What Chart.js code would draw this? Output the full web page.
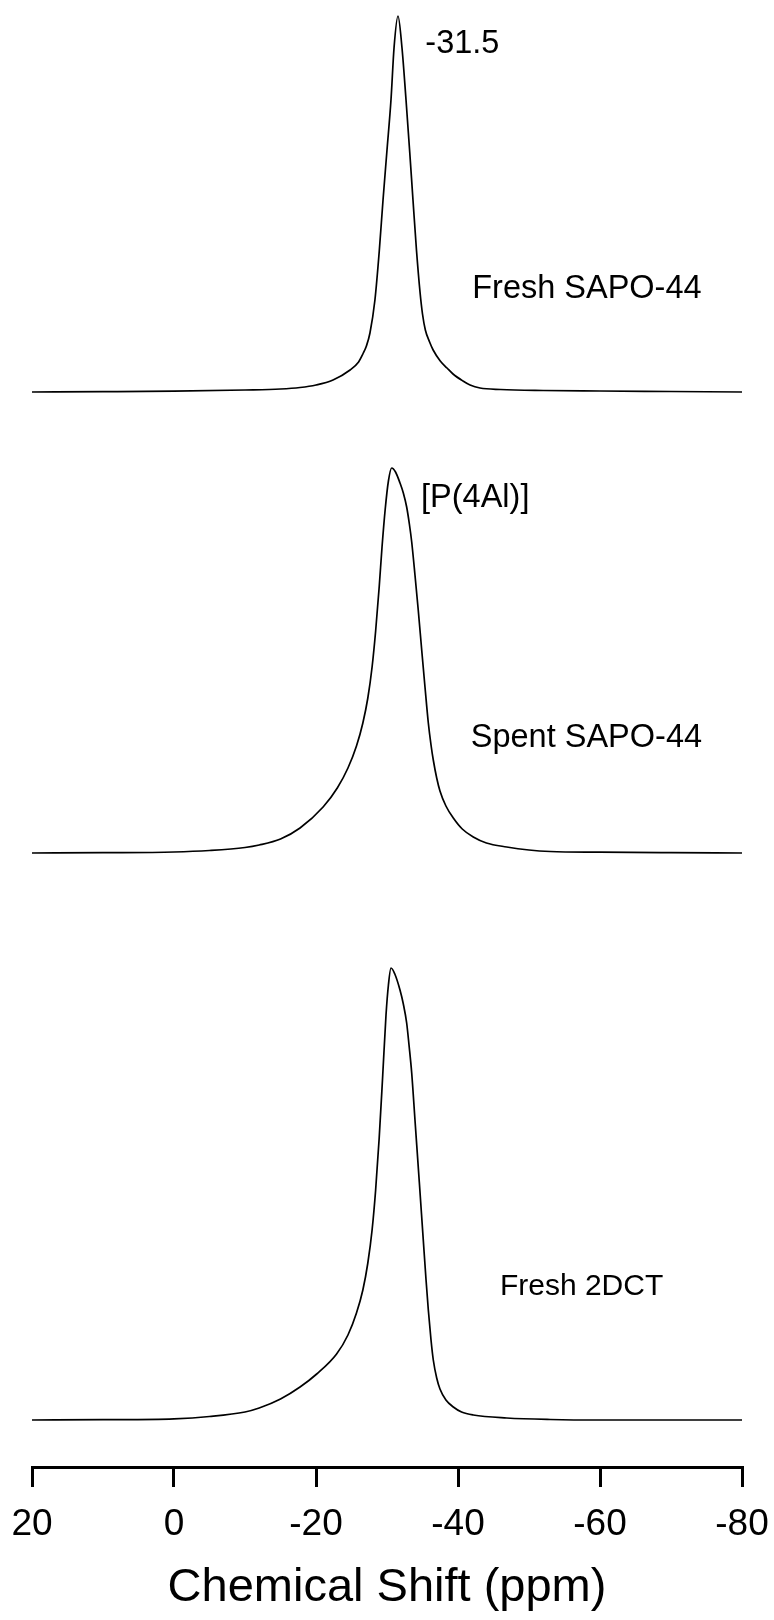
<!DOCTYPE html>
<html>
<head>
<meta charset="utf-8">
<script src="https://cdn.jsdelivr.net/npm/chart.js@4.4.1/dist/chart.umd.min.js"></script>
<style>
html,body{margin:0;padding:0;background:#fff;}
#wrap{width:774px;height:1620px;position:relative;}
canvas{display:block;}
</style>
</head>
<body>
<div id="wrap"><canvas id="c" width="774" height="1620"></canvas></div>
<script>
// ---- Data (31P MAS NMR spectra; chemical shift in ppm, intensity in a.u.) ----
const ppmFresh = [20, 10, 0, -10, -15, -17.75, -20, -22.4, -24.8, -26.0, -26.6, -27.1, -27.6, -28.3, -28.9, -29.44, -30.0, -30.56, -31.0, -31.55, -32.1, -32.68, -33.2, -33.66, -34.15, -34.65, -35.0, -35.4, -36.0, -36.5, -37.5, -38.45, -39.3, -40.7, -41.7, -43.1, -46, -52, -60, -70, -80];
const intFresh = [0, 0.3, 0.8, 2, 3, 4.5, 7, 12, 22, 30, 38, 46, 59, 92, 140, 192, 242, 292, 345, 376, 345, 292, 240, 192, 142, 100, 78, 62, 50, 42, 31, 24, 18, 11, 7, 4, 2.5, 1.5, 1, 0.5, 0];

const ppmSpent = [20, 10, 0, -5, -10, -12, -15, -17.75, -21.0, -23.0, -24.5, -25.7, -26.6, -27.3, -27.9, -28.4, -28.9, -29.3, -29.75, -30.2, -30.66, -31.2, -31.83, -32.3, -32.77, -33.15, -33.48, -33.94, -34.4, -34.9, -35.35, -35.82, -36.2, -36.52, -37.0, -37.46, -38.3, -39.34, -40.6, -42.15, -44.0, -46.86, -50, -53, -60, -70, -80];
const intSpent = [0, 0.3, 1, 2.5, 5.5, 8, 14, 25, 46, 65, 85, 107, 130, 155, 186, 222, 266, 306, 344, 372, 385, 381, 370, 360, 346, 329, 311, 278, 243, 202, 166, 130, 108, 93, 75, 62, 47, 35, 24, 16, 10, 6, 3, 1.5, 0.8, 0.3, 0];

const ppm2DCT = [20, 10, 0, -5, -10, -12, -15, -17.75, -20.1, -22.9, -24.5, -25.7, -26.6, -27.3, -27.9, -28.4, -28.9, -29.4, -29.86, -30.2, -30.56, -31.1, -31.83, -32.3, -32.77, -33.1, -33.48, -33.94, -34.55, -35.11, -35.5, -35.82, -36.2, -36.52, -37.0, -37.46, -38.3, -39.34, -40.5, -42.15, -46.86, -53, -60, -80];
const int2DCT = [0, 0.3, 1.2, 3.5, 8, 12, 21, 33, 46, 66, 85, 107, 130, 157, 190, 230, 282, 345, 405, 435, 452, 446, 430, 416, 397, 375, 347, 300, 238, 180, 140, 110, 80, 60, 42, 31, 20, 13, 8, 5, 2, 0.5, 0, 0];

const seriesNames = ['Fresh SAPO-44', 'Spent SAPO-44', 'Fresh 2DCT'];
const xTickValues = [20, 0, -20, -40, -60, -80];
const axisTitle = 'Chemical Shift (ppm)';

// ---- Layout / stacking constants ----
const stackOffsets = [1075, 614, 47];       // vertical offset of each spectrum (a.u.)
const annotations = [                        // [text, ppm, a.u., font px]
  ['-31.5', -35.4, 1414, 32.5],
  ['Fresh SAPO-44', -42.0, 1169, 32.5],
  ['[P(4Al)]', -34.8, 960, 32.5],
  ['Spent SAPO-44', -41.8, 720, 32.5],
  ['Fresh 2DCT', -45.9, 172, 30]
];
const FONT = '"Liberation Sans", Arial, Helvetica, sans-serif';

function toPoints(xs, ys, off) {
  return xs.map((x, i) => ({ x: x, y: ys[i] + off }));
}

const datasets = [
  { label: seriesNames[0], data: toPoints(ppmFresh, intFresh, stackOffsets[0]) },
  { label: seriesNames[1], data: toPoints(ppmSpent, intSpent, stackOffsets[1]) },
  { label: seriesNames[2], data: toPoints(ppm2DCT, int2DCT, stackOffsets[2]) }
].map(d => Object.assign(d, {
  borderColor: '#000',
  borderWidth: 1.7,
  pointRadius: 0,
  fill: false,
  cubicInterpolationMode: 'monotone'
}));

const annotationPlugin = {
  id: 'specLabels',
  afterDatasetsDraw(chart) {
    const { ctx, scales } = chart;
    ctx.save();
    ctx.fillStyle = '#000';
    ctx.textAlign = 'left';
    ctx.textBaseline = 'alphabetic';
    annotations.forEach(([t, px, py, fs]) => {
      ctx.font = fs + 'px ' + FONT;
      ctx.fillText(t, scales.x.getPixelForValue(px), scales.y.getPixelForValue(py));
    });
    ctx.restore();
  }
};

new Chart(document.getElementById('c'), {
  type: 'line',
  data: { datasets },
  plugins: [annotationPlugin],
  options: {
    responsive: false,
    animation: false,
    devicePixelRatio: 1,
    layout: { padding: { left: 32, right: 32, top: 0, bottom: 0 } },
    plugins: { legend: { display: false }, tooltip: { enabled: false } },
    scales: {
      x: {
        type: 'linear',
        min: -80,
        max: 20,
        reverse: true,
        afterBuildTicks: s => { s.ticks = xTickValues.map(v => ({ value: v })); },
        afterFit: s => { s.height = 153; s.paddingLeft = 0; s.paddingRight = 0; },
        ticks: {
          color: '#000',
          font: { family: FONT, size: 37 },
          padding: 16,
          maxRotation: 0,
          autoSkip: false,
          callback: v => String(v)
        },
        grid: { drawOnChartArea: false, drawTicks: true, tickLength: 20, color: '#000', lineWidth: 3 },
        border: { display: true, color: '#000', width: 3 },
        title: {
          display: true,
          text: axisTitle,
          color: '#000',
          font: { family: FONT, size: 47 },
          padding: { top: 10, bottom: 4 }
        }
      },
      y: { display: false, min: 0, max: 1467 }
    }
  }
});
</script>
</body>
</html>
